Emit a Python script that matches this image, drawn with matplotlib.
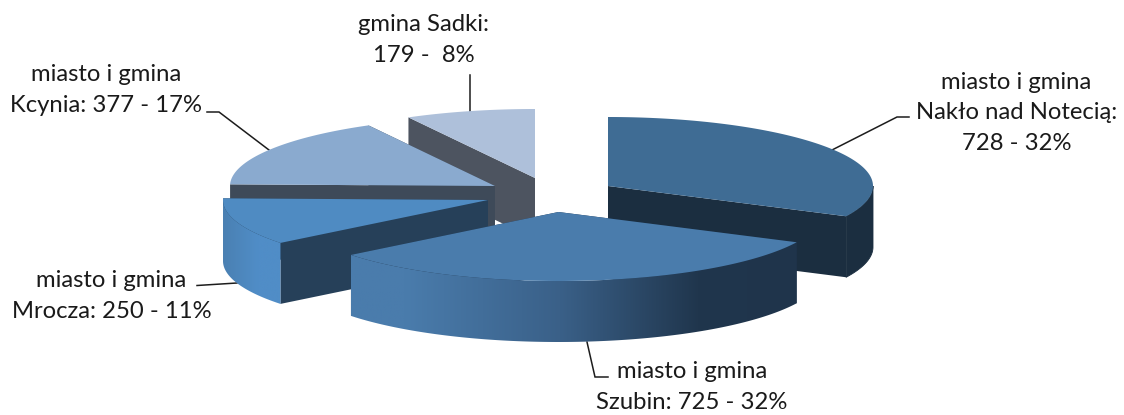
import numpy as np
import matplotlib
matplotlib.use("Agg")
import matplotlib.pyplot as plt
from matplotlib.colors import LinearSegmentedColormap
from matplotlib.patches import Polygon

plt.rcParams["font.family"] = ["Lato", "DejaVu Sans"]

names = ["Nakło", "Szubin", "Mrocza", "Kcynia", "Sadki"]
values = [728, 725, 250, 377, 179]
labels = [
    "miasto i gmina\nNakło nad Notecią:\n728 - 32%",
    "miasto i gmina\nSzubin: 725 - 32%",
    "miasto i gmina\nMrocza: 250 - 11%",
    "miasto i gmina\nKcynia: 377 - 17%",
    "gmina Sadki:\n179 -  8%",
]
top_colors = ["#3f6c94", "#4a7cac", "#4f8bc2", "#8aaacf", "#aec0da"]
wall_colors = ["#1b2e40", "#1f344b", "#264059", "#3e4a59", "#4d5460"]
# horizontal gradients on the outer wall, left to right
wall_gradients = {
    "Szubin": [(0, "#4a7cac"), (0.12, "#4a7cac"), (0.47, "#3a6088"), (0.78, "#20364d"), (1, "#1f344b")],
    "Mrocza": [(0, "#4a80b2"), (0.6, "#508dc7"), (1, "#508dc7")],
}

# wedge apex on the canvas, slices are pulled apart so each has its own
apex = [(608, 186), (558.5, 212), (488, 200), (495, 186), (535, 178)]
RX, RY, DEPTH = 265, 69, 61

# centre x and baseline of the last line
label_pos = [(1016.5, 150), (692, 409), (111.5, 318), (106, 112), (424, 62)]
leaders = [
    [(832, 150), (897, 117), (909, 117)],
    [(587, 342), (595, 377), (608, 377)],
    [(237, 283), (197, 285.5)],
    [(269, 150), (219, 112), (207, 112)],
    [(470, 112), (470, 75)],
]

# angles clockwise from 12 o'clock
edges = np.concatenate([[0], np.cumsum(values)]) / sum(values) * 2 * np.pi


def rim(i, angles):
    x = apex[i][0] + RX * np.sin(angles)
    y = apex[i][1] - RY * np.cos(angles)
    return x, y


fig = plt.figure(figsize=(11.24, 4.15), dpi=100)
ax = fig.add_axes([0, 0, 1, 1])

# back to front
for zo, i in enumerate([4, 3, 2, 0, 1]):
    base = zo * 10 + 1
    a0, a1 = edges[i], edges[i + 1]
    cx, cy = apex[i]

    # cut faces towards the centre
    for a in (a0, a1):
        x, y = rim(i, np.array([a]))
        face = [(cx, cy), (x[0], y[0]), (x[0], y[0] + DEPTH), (cx, cy + DEPTH)]
        ax.add_patch(Polygon(face, fc=wall_colors[i], ec="none", zorder=base))

    # outer wall, only the part turned to the viewer
    lo, hi = max(a0, np.pi / 2), min(a1, 3 * np.pi / 2)
    if hi > lo:
        t = np.linspace(lo, hi, 150)
        x, y = rim(i, t)
        outline = list(zip(x, y)) + list(zip(x[::-1], y[::-1] + DEPTH))
        if names[i] in wall_gradients:
            cmap = LinearSegmentedColormap.from_list(names[i], wall_gradients[names[i]])
            wall = Polygon(outline, fc="none", ec="none", transform=ax.transData)
            ax.add_patch(wall)
            im = ax.imshow(np.linspace(0, 1, 256)[None, :], cmap=cmap, aspect="auto",
                           extent=(x.min(), x.max(), y.max() + DEPTH, y.min()),
                           zorder=base + 1)
            im.set_clip_path(wall)
        else:
            # thin edge hides the seam against the cut face
            ax.add_patch(Polygon(outline, fc=wall_colors[i], ec=wall_colors[i], lw=0.6,
                                 zorder=base + 1))

    # top face
    t = np.linspace(a0, a1, 200)
    x, y = rim(i, t)
    pts = [(cx, cy)] + list(zip(x, y))
    ax.add_patch(Polygon(pts, fc=top_colors[i], ec="none", zorder=base + 2))

for line in leaders:
    xs, ys = zip(*line)
    ax.plot(xs, ys, color="#1c1c1c", lw=1.1, solid_joinstyle="miter", zorder=0)

for text, (tx, ty) in zip(labels, label_pos):
    ax.text(tx, ty, text, ha="center", va="baseline", fontsize=17.2,
            color="#1a1a1a", linespacing=1.56, zorder=100)

ax.set_xlim(0, 1124)
ax.set_ylim(415, 0)
ax.axis("off")

fig.savefig("out.png", dpi=100)
